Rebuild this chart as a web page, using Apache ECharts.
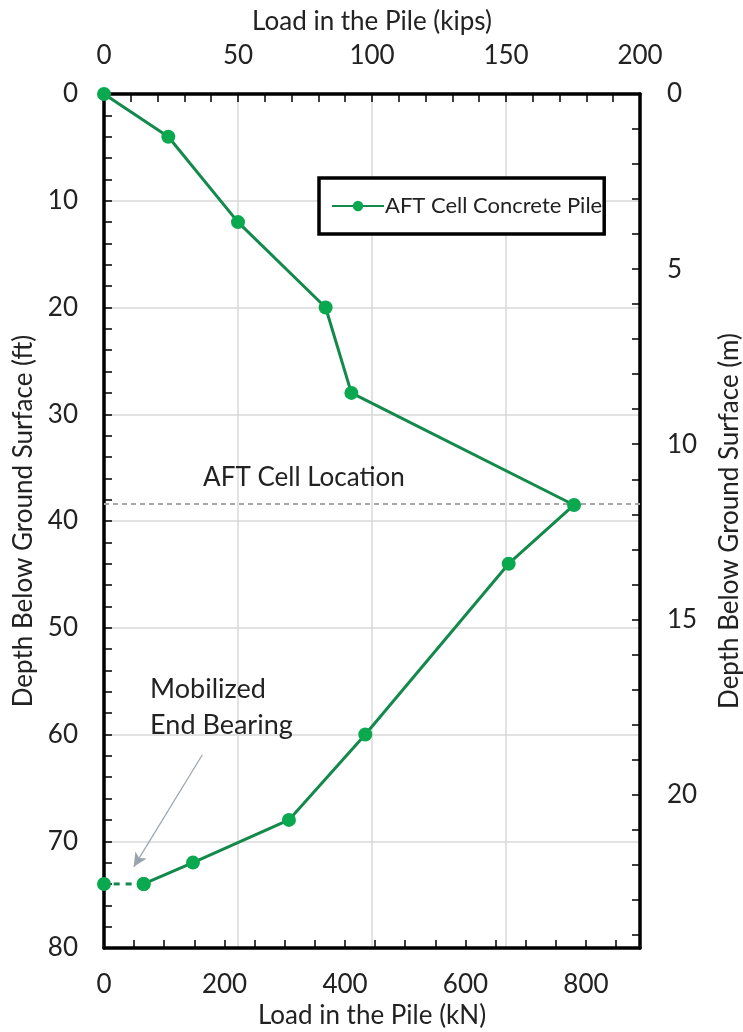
<!DOCTYPE html>
<html><head><meta charset="utf-8">
<script src="https://cdn.jsdelivr.net/npm/echarts@6/dist/echarts.min.js"></script>
<style>html,body{margin:0;padding:0;background:#fff}#c{width:743px;height:1032px}</style>
</head><body><div id="c"></div>
<script>
// Data (load in kips, depth in ft)
const seriesName = 'AFT Cell Concrete Pile';
const loadKips = [0, 24, 50, 82.7, 92.3, 175.4, 151, 97.5, 69, 33.2, 14.8];
const depthFt  = [0, 4, 12, 20, 28, 38.5, 44, 60, 68, 72, 74];
const endLoadKips = [14.8, 0];
const endDepthFt  = [74, 74];
const cellDepthFt = 38.4;
const arrowFrom = [36.7, 61.9];
const arrowTo   = [11.1, 72.4];
const kipsLabels = [0, 50, 100, 150, 200];
const kNLabels = [0, 200, 400, 600, 800];
const ftLabels = [0, 10, 20, 30, 40, 50, 60, 70, 80];
const mLabels = [0, 5, 10, 15, 20];

const KN_PER_KIP = 4.44822;
const FT_PER_M = 3.28084;
const FONT = 'Lato';
const mainData = loadKips.map((v, i) => [v, depthFt[i]]);
const endData = endLoadKips.map((v, i) => [v, endDepthFt[i]]);

const chart = echarts.init(document.getElementById('c'), null, {renderer: 'canvas'});
const axisLineStyle = {color: '#000', width: 3.5};
const labelStyle = {color: '#222', fontSize: 26, fontFamily: FONT};
const nameStyle = {color: '#222', fontSize: 26, fontFamily: FONT};
const tickStyle = {color: '#000', width: 1.5};
const gridColor = '#d9d9d9';

chart.setOption({
  animation: false,
  backgroundColor: '#fff',
  grid: {left: 104, right: 103, top: 94, bottom: 84, containLabel: false, outerBoundsMode: 'none'},
  legend: {
    data: [seriesName],
    left: 319, top: 178, width: 270,
    orient: 'horizontal',
    borderColor: '#000', borderWidth: 3.5,
    padding: [17, 2, 17, 12],
    itemWidth: 52, itemHeight: 13,
    textStyle: {fontSize: 22, fontFamily: FONT, color: '#222', padding: [0, 0, 0, -4]},
    backgroundColor: '#fff'
  },
  xAxis: [
    {
      type: 'value', position: 'top', min: 0, max: 200, interval: 50,
      name: 'Load in the Pile (kips)', nameLocation: 'middle', nameGap: 59, nameTextStyle: nameStyle,
      axisLine: {show: true, onZero: false, lineStyle: axisLineStyle},
      axisTick: {show: true, inside: true, length: 8, lineStyle: tickStyle},
      minorTick: {show: true, splitNumber: 5, length: 8, lineStyle: tickStyle},
      axisLabel: {margin: 25, ...labelStyle, formatter: v => kipsLabels.includes(v) ? String(v) : ''},
      splitLine: {show: true, lineStyle: {color: gridColor, width: 1.5}}
    },
    {
      type: 'value', position: 'bottom', min: 0, max: 200 * KN_PER_KIP, interval: 50,
      name: 'Load in the Pile (kN)', nameLocation: 'middle', nameGap: 54, nameTextStyle: nameStyle,
      axisLine: {show: true, onZero: false, lineStyle: axisLineStyle},
      axisTick: {show: true, inside: true, length: 8, lineStyle: tickStyle},
      axisLabel: {margin: 24, ...labelStyle, showMaxLabel: false, formatter: v => kNLabels.includes(v) ? String(v) : ''},
      splitLine: {show: false}
    }
  ],
  yAxis: [
    {
      type: 'value', inverse: true, position: 'left', min: 0, max: 80, interval: 10,
      name: 'Depth Below Ground Surface (ft)', nameLocation: 'middle', nameGap: 61, nameRotate: 90, nameTextStyle: nameStyle,
      axisLine: {show: true, onZero: false, lineStyle: axisLineStyle},
      axisTick: {show: true, inside: true, length: 8, lineStyle: tickStyle},
      minorTick: {show: true, splitNumber: 5, length: 8, lineStyle: tickStyle},
      axisLabel: {margin: 26, ...labelStyle, formatter: v => ftLabels.includes(v) ? String(v) : ''},
      splitLine: {show: true, lineStyle: {color: gridColor, width: 1.5}}
    },
    {
      type: 'value', inverse: true, position: 'right', min: 0, max: 80 / FT_PER_M, interval: 1,
      name: 'Depth Below Ground Surface (m)', nameLocation: 'middle', nameGap: 77, nameRotate: 90, nameTextStyle: nameStyle,
      axisLine: {show: true, onZero: false, lineStyle: axisLineStyle},
      axisTick: {show: true, inside: true, length: 8, lineStyle: tickStyle},
      axisLabel: {margin: 27, ...labelStyle, showMaxLabel: false, formatter: v => mLabels.includes(v) ? String(v) : ''},
      splitLine: {show: false}
    }
  ],
  series: [
    {
      name: seriesName, type: 'line', xAxisIndex: 0, yAxisIndex: 0,
      data: mainData,
      symbol: 'circle', symbolSize: 14,
      lineStyle: {color: '#138a4b', width: 3},
      itemStyle: {color: '#0aa84f'},
      z: 5,
      markLine: {
        silent: true, symbol: ['none', 'none'], animation: false,
        label: {show: false},
        lineStyle: {color: '#a6a6a6', type: [5, 4], width: 2},
        data: [{yAxis: cellDepthFt}]
      }
    },
    {
      name: 'end', type: 'line', xAxisIndex: 0, yAxisIndex: 0,
      data: endData,
      symbol: 'circle', symbolSize: 14,
      lineStyle: {color: '#138a4b', width: 3, type: [6, 6]},
      itemStyle: {color: '#0aa84f'},
      z: 5,
      markLine: {
        silent: true, symbol: ['none', 'arrow'], symbolSize: [10, 14], animation: false,
        label: {show: false},
        lineStyle: {color: '#9aa3ad', type: 'solid', width: 1.2},
        data: [[{coord: arrowFrom}, {coord: arrowTo}]]
      }
    }
  ]
});

function px(pt) { return chart.convertToPixel({xAxisIndex: 0, yAxisIndex: 0}, pt); }
const cellTextPos = px([74.6, 35.9]);
const mobPos = px([17.2, 54.1]);
chart.setOption({
  graphic: [
    {type: 'text', x: cellTextPos[0], y: cellTextPos[1], style: {text: 'AFT Cell Location', fontSize: 26, fontFamily: FONT, fill: '#222', align: 'center', verticalAlign: 'middle'}, z: 10},
    {type: 'text', x: mobPos[0], y: mobPos[1], style: {text: 'Mobilized\nEnd Bearing', fontSize: 27, fontFamily: FONT, fill: '#222', align: 'left', verticalAlign: 'top', lineHeight: 36}, z: 10}
  ]
});
</script></body></html>
